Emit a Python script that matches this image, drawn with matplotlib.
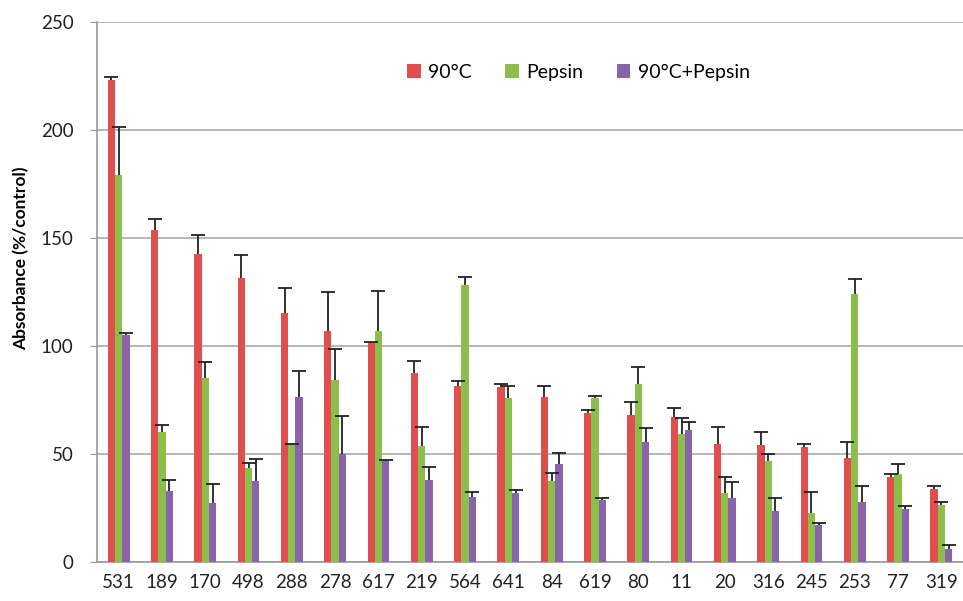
"""Grouped bar chart of absorbance for heat / pepsin treatments."""

import matplotlib.pyplot as plt
import numpy as np

plt.rcParams["font.family"] = ["Lato", "DejaVu Sans"]

samples = ["531", "189", "170", "498", "288", "278", "617", "219", "564", "641",
           "84", "619", "80", "11", "20", "316", "245", "253", "77", "319"]

heat = [223, 153.7, 142.4, 131.5, 115.4, 107.1, 101.4, 87.3, 81.6, 81,
        76.5, 69.1, 68.1, 67.1, 54.6, 54, 53.1, 48, 39.5, 33.8]
heat_err = [1.4, 5.3, 8.8, 10.8, 11.3, 18, 0.4, 5.7, 2.2, 1.6,
            5, 1.1, 6.1, 4.2, 7.9, 6.2, 1.5, 7.6, 1.1, 1.4]

pepsin = [179, 60.3, 85.3, 43.7, 54.5, 84.3, 107.1, 53.5, 128.2, 76.1,
          37.5, 75.9, 82.6, 59.3, 31.8, 46.9, 22.5, 124.1, 40.7, 26.5]
pepsin_err = [22.5, 3.1, 7.1, 2.1, 0.3, 14.3, 18.5, 8.8, 3.8, 5.4,
              3.7, 1, 7.7, 7.4, 7.7, 3.1, 9.9, 6.9, 4.7, 1.1]

heat_pepsin = [105, 32.9, 27.2, 37.5, 76.5, 50, 46.6, 38.1, 30.2, 31.8,
               45.5, 28.7, 55.7, 61, 29.6, 23.5, 17.1, 27.6, 24.7, 5.9]
heat_pepsin_err = [1, 5.1, 8.8, 10.2, 11.9, 17.6, 0.5, 6, 2.1, 1.5,
                   5, 0.9, 6.2, 4, 7.4, 6, 1.1, 7.7, 1.2, 1.8]

series = [
    ("90°C", heat, heat_err, "#E04E4D"),
    ("Pepsin", pepsin, pepsin_err, "#8CBE4C"),
    ("90°C+Pepsin", heat_pepsin, heat_pepsin_err, "#8A63AA"),
]


def main() -> None:
    fig = plt.figure(figsize=(9.63, 6.01), dpi=100)
    ax = fig.add_axes([0.1007, 0.0649, 0.8993, 0.8985])

    x = np.arange(len(samples))
    width = 0.168
    for i, (name, vals, errs, color) in enumerate(series):
        bars = ax.bar(x + (i - 1) * width, vals, width, color=color, label=name,
                      yerr=[np.zeros(len(errs)), errs], capsize=5,
                      error_kw={"ecolor": "#222222", "elinewidth": 1.3,
                                "capthick": 1.3},
                      zorder=3)
        # only the upper half of each error bar is shown
        bars.errorbar.lines[1][0].set_visible(False)

    ax.set_xlim(-0.5, len(samples) - 0.5)
    ax.set_ylim(0, 250)
    ax.set_yticks(range(0, 251, 50))
    ax.set_xticks(x)
    ax.set_xticklabels(samples, fontsize=13.5, color="#222222")
    ax.tick_params(axis="y", labelsize=13.5, colors="#222222", length=5,
                   color="#999999", pad=12)
    ax.tick_params(axis="x", length=0, pad=9)
    ax.set_ylabel("Absorbance (%/control)", fontsize=12.5, fontweight="bold")
    ax.yaxis.set_label_coords(-0.078, 0.563)
    ax.yaxis.grid(True, color="#aaaaaa", linewidth=1.2, zorder=0)
    for side in ["top", "right"]:
        ax.spines[side].set_visible(False)
    for side in ["left", "bottom"]:
        ax.spines[side].set_color("#999999")
        ax.spines[side].set_linewidth(1.2)

    ax.legend(loc="center", bbox_to_anchor=(0.556, 0.907), ncol=3,
              frameon=False, fontsize=14, handlelength=0.7,
              handleheight=0.7, handletextpad=0.4, columnspacing=1.7)

    fig.savefig("out.png", dpi=100)


if __name__ == "__main__":
    main()
